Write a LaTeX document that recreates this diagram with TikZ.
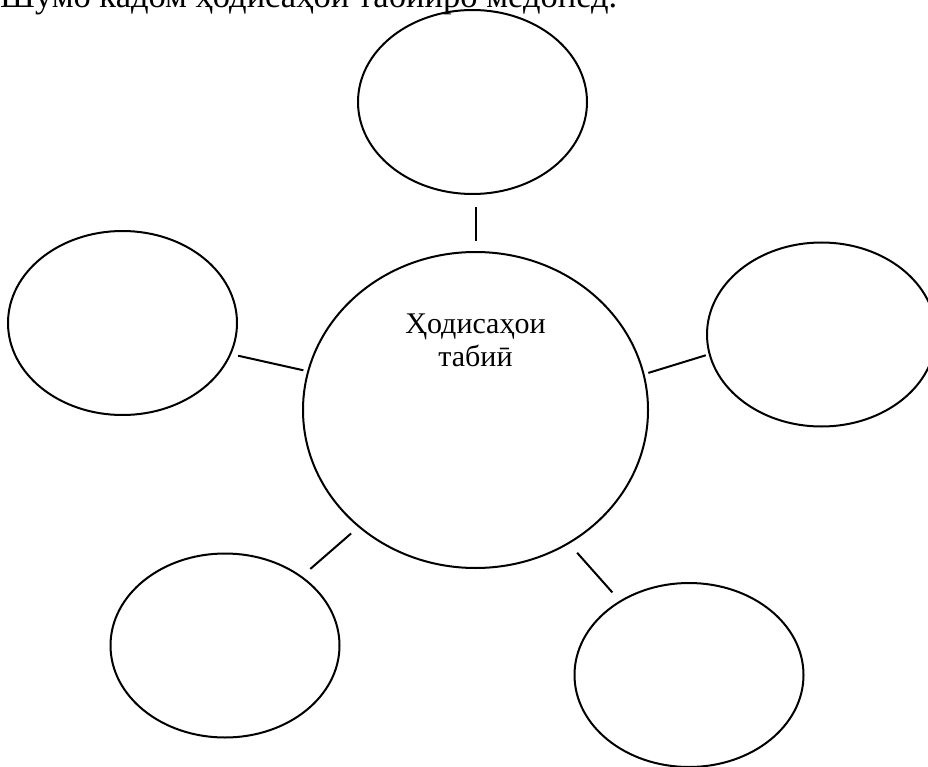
\documentclass[tikz,border=0pt]{standalone}
\usepackage{fontspec}
\setmainfont{Liberation Serif}
\usetikzlibrary{shapes.geometric}
\begin{document}
\begin{tikzpicture}[x=1pt,y=-1pt,
  blob/.style={draw, ellipse, line width=2pt, inner sep=0pt, minimum width=229pt, minimum height=184pt},
  hub/.style={draw, ellipse, line width=2pt, inner sep=0pt, minimum width=345pt, minimum height=316pt},
  link/.style={line width=2pt},
  txt/.style={font=\fontsize{30}{33}\selectfont, inner sep=0pt},
  head/.style={font=\fontsize{34.5}{40}\selectfont, inner sep=0pt}]
\useasboundingbox (0,0) rectangle (928,767);
\clip (0,0) rectangle (928,767);
\node[head, anchor=base west] (title) at (0,7.5) {Шумо кадом ҳодисаҳои табииро медонед.};
\node[hub] (c) at (475.5,410) {};
\node[blob] (t) at (472.5,102) {};
\node[blob] (l) at (122.5,323) {};
\node[blob] (r) at (821.5,334.5) {};
\node[blob] (bl) at (225,645.5) {};
\node[blob] (br) at (689,675) {};
\node[txt, align=center, anchor=base] (lab) at (475.5,366) {Ҳодисаҳои\\табиӣ};
\draw[link, shorten <=12, shorten >=10] (c.north |- t.south) -- (c.north);
\draw[link, shorten <=7, shorten >=4] (l.-16) -- (c.167.5);
\draw[link, shorten <=4, shorten >=3] (c.12.5) -- (r.190.6);
\draw[link, shorten <=11, shorten >=9.5] (bl.42.3) -- (c.225);
\draw[link, shorten <=12, shorten >=11] (c.-55.2) -- (br.133.6);
\end{tikzpicture}
\end{document}
